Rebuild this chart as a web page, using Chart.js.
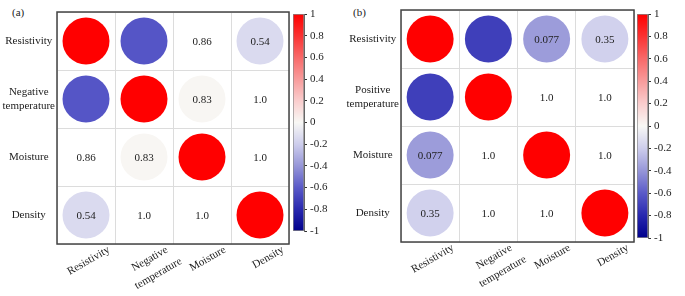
<!DOCTYPE html>
<html>
<head>
<meta charset="utf-8">
<script src="https://cdn.jsdelivr.net/npm/chart.js@4"></script>
<style>
  body { margin: 0; background: #fff; }
  #wrap { position: relative; width: 685px; height: 296px; font-family: "Liberation Serif", "Times New Roman", serif; }
  canvas { position: absolute; top: 0; }
  .tag { position: absolute; font-size: 11px; color: #222; }
</style>
</head>
<body>
<div id="wrap">
  <div class="tag" style="left:12px;top:6px">(a)</div>
  <div class="tag" style="left:353px;top:6px">(b)</div>
  <canvas id="matA" style="left:0" width="291" height="296"></canvas>
  <canvas id="barA" style="left:289px" width="50" height="296"></canvas>
  <canvas id="matB" style="left:345px" width="291" height="296"></canvas>
  <canvas id="barB" style="left:633px" width="50" height="296"></canvas>
</div>
<script>
// categories
var colNames = ["Resistivity", "Negative temperature", "Moisture", "Density"];
var rowNamesA = ["Resistivity", "Negative temperature", "Moisture", "Density"];
var rowNamesB = ["Resistivity", "Positive temperature", "Moisture", "Density"];

// correlation (circle colour), 0 = no circle
var corrA = [
  [1, -0.62, 0, -0.14],
  [-0.62, 1, 0.01, 0],
  [0, 0.01, 1, 0],
  [-0.14, 0, 0, 1]
];
var corrB = [
  [1, -0.71, -0.38, -0.18],
  [-0.71, 1, 0, 0],
  [-0.38, 0, 1, 0],
  [-0.18, 0, 0, 1]
];

// printed values
var textA = [
  ["", "", "0.86", "0.54"],
  ["", "", "0.83", "1.0"],
  ["0.86", "0.83", "", "1.0"],
  ["0.54", "1.0", "1.0", ""]
];
var textB = [
  ["", "", "0.077", "0.35"],
  ["", "", "1.0", "1.0"],
  ["0.077", "1.0", "", "1.0"],
  ["0.35", "1.0", "1.0", ""]
];

// colour bar ticks
var barTicks = [1, 0.8, 0.6, 0.4, 0.2, 0, -0.2, -0.4, -0.6, -0.8, -1];

var FONT = '"Liberation Serif", "Times New Roman", serif';

// blue - white - red map
var cmap = [
  [-1, 0, 0, 140],
  [-0.8, 40, 40, 175],
  [-0.6, 90, 90, 200],
  [-0.4, 150, 150, 216],
  [-0.2, 205, 205, 236],
  [0, 248, 248, 245],
  [0.2, 250, 205, 205],
  [0.4, 248, 155, 155],
  [0.6, 248, 105, 105],
  [0.8, 250, 50, 50],
  [1, 255, 0, 0]
];

function corrColor(v) {
  for (var k = 1; k < cmap.length; k++) {
    if (v <= cmap[k][0]) {
      var a = cmap[k - 1], b = cmap[k];
      var t = (v - a[0]) / (b[0] - a[0]);
      var r = Math.round(a[1] + (b[1] - a[1]) * t);
      var g = Math.round(a[2] + (b[2] - a[2]) * t);
      var bl = Math.round(a[3] + (b[3] - a[3]) * t);
      return "rgb(" + r + "," + g + "," + bl + ")";
    }
  }
  return "rgb(255,0,0)";
}

// labels, border and rotated x labels
var cellPlugin = {
  id: "cells",
  afterDatasetsDraw: function (chart) {
    var c = chart.ctx;
    var area = chart.chartArea;
    var xs = chart.scales.x;
    var pts = chart.getDatasetMeta(0).data;
    c.save();
    c.font = "11px " + FONT;
    c.fillStyle = "#222";
    c.textAlign = "center";
    c.textBaseline = "middle";
    chart.data.datasets[0].data.forEach(function (d, k) {
      if (d.t) c.fillText(d.t, pts[k].x, pts[k].y + 1);
    });
    c.strokeStyle = "#444";
    c.lineWidth = 1.5;
    c.strokeRect(area.left, area.top, area.width, area.height);

    xs.ticks.forEach(function (tk, i) {
      var lines = xs.getLabelForValue(i).split(" ");
      var x = xs.getPixelForTick(i);
      c.save();
      c.translate(x + 23, area.bottom + 5);
      c.rotate(-Math.PI / 6);
      var w1 = c.measureText(lines[0]).width;
      lines.forEach(function (ln, j) {
        c.fillText(ln, -w1 / 2, j * 17);
      });
      c.restore();
    });
    c.restore();
  }
};

function makeMatrix(id, rows, corr, text, padTop, yWidth, xHeight) {
  var pts = [];
  rows.forEach(function (rn, i) {
    colNames.forEach(function (cn, j) {
      pts.push({ x: cn, y: rn, v: corr[i][j], t: text[i][j] });
    });
  });
  return new Chart(id, {
    type: "bubble",
    data: {
      datasets: [{
        data: pts,
        backgroundColor: function (ctx) { return ctx.raw ? corrColor(ctx.raw.v) : "transparent"; },
        radius: function (ctx) { return ctx.raw && ctx.raw.v !== 0 ? 23.5 : 0; },
        borderWidth: 0
      }]
    },
    options: {
      responsive: false,
      animation: false,
      events: [],
      layout: { autoPadding: false, padding: { top: padTop, right: 2, left: 0, bottom: 0 } },
      plugins: { legend: { display: false }, tooltip: { enabled: false } },
      scales: {
        x: {
          type: "category",
          labels: colNames,
          offset: true,
          grid: { offset: true, color: "#dcdcdc", drawTicks: false },
          border: { display: false },
          ticks: { display: false },
          afterFit: function (s) { s.height = xHeight; }
        },
        y: {
          type: "category",
          labels: rows,
          offset: true,
          grid: { offset: true, color: "#dcdcdc", drawTicks: false },
          border: { display: false },
          ticks: {
            crossAlign: "center",
            padding: 2,
            color: "#222",
            font: { family: FONT, size: 11, lineHeight: 1.25 },
            callback: function (v) {
              var s = this.getLabelForValue(v);
              return s.indexOf(" ") > 0 ? s.split(" ") : s;
            }
          },
          afterFit: function (s) { s.width = yWidth; }
        }
      }
    },
    plugins: [cellPlugin]
  });
}

function makeBar(id, padBottom) {
  return new Chart(id, {
    type: "bar",
    data: {
      labels: [""],
      datasets: [{
        data: [[-1, 1]],
        backgroundColor: function (ctx) {
          var a = ctx.chart.chartArea;
          if (!a) return "#fff";
          var g = ctx.chart.ctx.createLinearGradient(0, a.bottom, 0, a.top);
          cmap.forEach(function (s) {
            g.addColorStop((s[0] + 1) / 2, corrColor(s[0]));
          });
          return g;
        },
        borderColor: "#888",
        borderWidth: 1,
        borderSkipped: false,
        barPercentage: 1,
        categoryPercentage: 1
      }]
    },
    options: {
      responsive: false,
      animation: false,
      events: [],
      layout: { padding: { top: 14, bottom: padBottom, left: 4, right: 0 } },
      plugins: { legend: { display: false }, tooltip: { enabled: false } },
      scales: {
        x: { display: false },
        y: {
          position: "right",
          min: -1,
          max: 1,
          afterBuildTicks: function (s) {
            s.ticks = barTicks.map(function (v) { return { value: v }; });
          },
          grid: { drawOnChartArea: false, tickLength: 3, color: "#333" },
          border: { display: true, color: "#666" },
          ticks: {
            padding: 3,
            color: "#222",
            font: { family: FONT, size: 11 },
            callback: function (v) { return String(Math.round(v * 10) / 10); }
          },
          afterFit: function (s) { s.width = 35; }
        }
      }
    }
  });
}

makeMatrix("matA", rowNamesA, corrA, textA, 12, 57, 52);
makeMatrix("matB", rowNamesB, corrB, textB, 10, 56, 54);
makeBar("barA", 65);
makeBar("barB", 58);
</script>
</body>
</html>
